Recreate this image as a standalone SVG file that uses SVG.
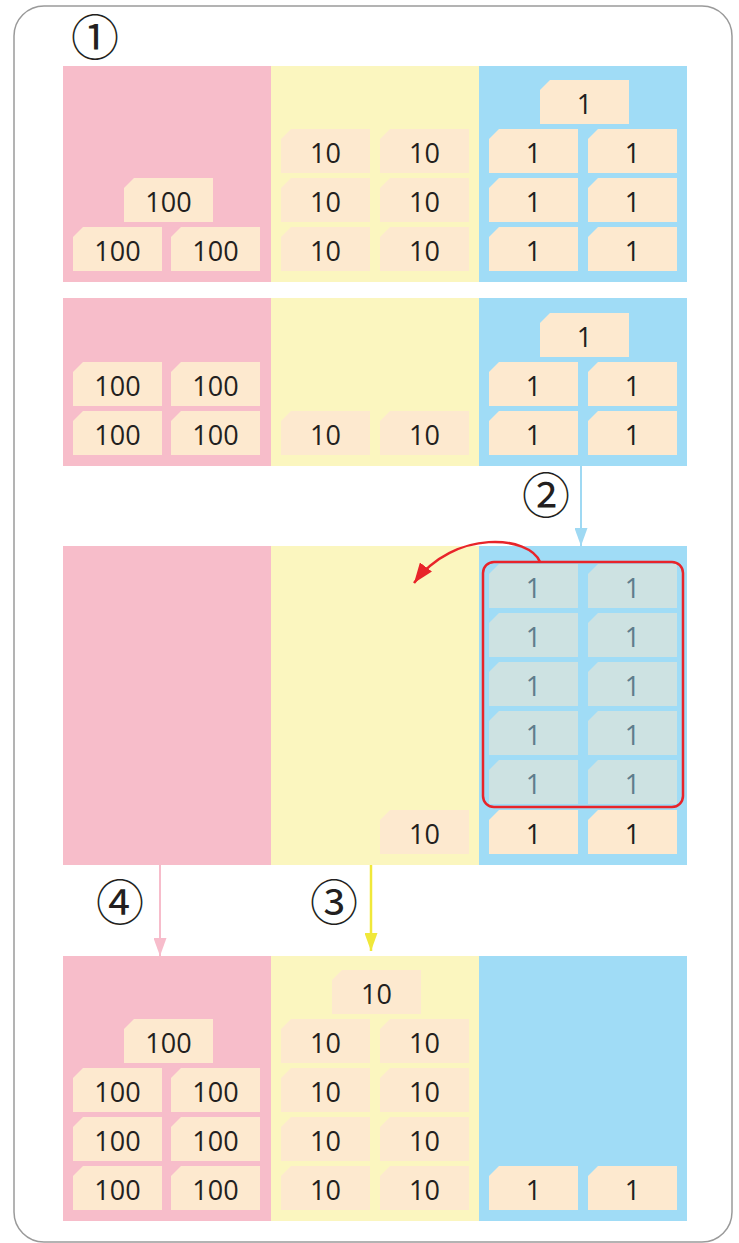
<svg xmlns="http://www.w3.org/2000/svg" xmlns:xlink="http://www.w3.org/1999/xlink" width="739" height="1243" viewBox="0 0 739 1243">
<style>
.t{font-family:"Open Sans","Noto Sans",sans-serif;font-size:27px;fill:#231f20;text-anchor:middle}
.tg{font-family:"Open Sans","Noto Sans",sans-serif;font-size:27px;fill:#5f7d8c;text-anchor:middle}
.c{fill:#fde9cf}
.cg{fill:#cde2e2}
.pink{fill:#f7bdca}
.yel{fill:#fbf6bf}
.blue{fill:#a0dcf6}
.num{font-family:"Noto Sans CJK JP","Noto Sans CJK SC",sans-serif;font-size:48px;fill:#231f20;text-anchor:middle}
</style>
<defs>
<path id="card" d="M10,0H89V44H0V10Z"/>
<marker id="ah-blue" viewBox="0 0 18 13" refX="18" refY="6.5" markerWidth="18" markerHeight="13" markerUnits="userSpaceOnUse" orient="auto"><path d="M0,0L18,6.5L0,13Z" fill="#9fd9f3"/></marker>
<marker id="ah-pink" viewBox="0 0 18 13" refX="18" refY="6.5" markerWidth="18" markerHeight="13" markerUnits="userSpaceOnUse" orient="auto"><path d="M0,0L18,6.5L0,13Z" fill="#f7bccb"/></marker>
<marker id="ah-yel" viewBox="0 0 18 13" refX="18" refY="6.5" markerWidth="18" markerHeight="13" markerUnits="userSpaceOnUse" orient="auto"><path d="M0,0L18,6.5L0,13Z" fill="#f0e83a"/></marker>
<marker id="ah-red" viewBox="0 0 20 15" refX="20" refY="7.5" markerWidth="20" markerHeight="15" markerUnits="userSpaceOnUse" orient="auto"><path d="M0,0L20,7.5L0,15Z" fill="#e8242a"/></marker>
</defs>
<rect x="14" y="6" width="718" height="1236" rx="30" fill="#fff" stroke="#9a9a9a" stroke-width="1.5"/>

<g id="panels">
<rect class="pink" x="63" y="66" width="208" height="216"/><rect class="yel" x="271" y="66" width="208" height="216"/><rect class="blue" x="479" y="66" width="208" height="216"/>
<rect class="pink" x="63" y="298" width="208" height="168"/><rect class="yel" x="271" y="298" width="208" height="168"/><rect class="blue" x="479" y="298" width="208" height="168"/>
<rect class="pink" x="63" y="546" width="208" height="319"/><rect class="yel" x="271" y="546" width="208" height="319"/><rect class="blue" x="479" y="546" width="208" height="319"/>
<rect class="pink" x="63" y="956" width="208" height="265"/><rect class="yel" x="271" y="956" width="208" height="265"/><rect class="blue" x="479" y="956" width="208" height="265"/>
</g>

<g id="labels">
<text class="num" x="95" y="55">①</text>
<text class="num" x="546" y="513">②</text>
<text class="num" x="334" y="920">③</text>
<text class="num" x="120" y="920">④</text>
</g>

<!-- Panel 1 -->
<g id="p1-h-top" transform="translate(124,178)"><use href="#card" class="c"/><text class="t" x="44.5" y="34">100</text></g>
<g id="p1-h-a" transform="translate(73,227)"><use href="#card" class="c"/><text class="t" x="44.5" y="34">100</text></g>
<g id="p1-h-b" transform="translate(171,227)"><use href="#card" class="c"/><text class="t" x="44.5" y="34">100</text></g>
<g id="p1-t-1a" transform="translate(281,129)"><use href="#card" class="c"/><text class="t" x="44.5" y="34">10</text></g>
<g id="p1-t-1b" transform="translate(380,129)"><use href="#card" class="c"/><text class="t" x="44.5" y="34">10</text></g>
<g id="p1-t-2a" transform="translate(281,178)"><use href="#card" class="c"/><text class="t" x="44.5" y="34">10</text></g>
<g id="p1-t-2b" transform="translate(380,178)"><use href="#card" class="c"/><text class="t" x="44.5" y="34">10</text></g>
<g id="p1-t-3a" transform="translate(281,227)"><use href="#card" class="c"/><text class="t" x="44.5" y="34">10</text></g>
<g id="p1-t-3b" transform="translate(380,227)"><use href="#card" class="c"/><text class="t" x="44.5" y="34">10</text></g>
<g id="p1-o-top" transform="translate(540,80)"><use href="#card" class="c"/><text class="t" x="44.5" y="34">1</text></g>
<g id="p1-o-1a" transform="translate(489,129)"><use href="#card" class="c"/><text class="t" x="44.5" y="34">1</text></g>
<g id="p1-o-1b" transform="translate(588,129)"><use href="#card" class="c"/><text class="t" x="44.5" y="34">1</text></g>
<g id="p1-o-2a" transform="translate(489,178)"><use href="#card" class="c"/><text class="t" x="44.5" y="34">1</text></g>
<g id="p1-o-2b" transform="translate(588,178)"><use href="#card" class="c"/><text class="t" x="44.5" y="34">1</text></g>
<g id="p1-o-3a" transform="translate(489,227)"><use href="#card" class="c"/><text class="t" x="44.5" y="34">1</text></g>
<g id="p1-o-3b" transform="translate(588,227)"><use href="#card" class="c"/><text class="t" x="44.5" y="34">1</text></g>

<!-- Panel 2 -->
<g id="p2-h-1a" transform="translate(73,362)"><use href="#card" class="c"/><text class="t" x="44.5" y="34">100</text></g>
<g id="p2-h-1b" transform="translate(171,362)"><use href="#card" class="c"/><text class="t" x="44.5" y="34">100</text></g>
<g id="p2-h-2a" transform="translate(73,411)"><use href="#card" class="c"/><text class="t" x="44.5" y="34">100</text></g>
<g id="p2-h-2b" transform="translate(171,411)"><use href="#card" class="c"/><text class="t" x="44.5" y="34">100</text></g>
<g id="p2-t-a" transform="translate(281,411)"><use href="#card" class="c"/><text class="t" x="44.5" y="34">10</text></g>
<g id="p2-t-b" transform="translate(380,411)"><use href="#card" class="c"/><text class="t" x="44.5" y="34">10</text></g>
<g id="p2-o-top" transform="translate(540,313)"><use href="#card" class="c"/><text class="t" x="44.5" y="34">1</text></g>
<g id="p2-o-1a" transform="translate(489,362)"><use href="#card" class="c"/><text class="t" x="44.5" y="34">1</text></g>
<g id="p2-o-1b" transform="translate(588,362)"><use href="#card" class="c"/><text class="t" x="44.5" y="34">1</text></g>
<g id="p2-o-2a" transform="translate(489,411)"><use href="#card" class="c"/><text class="t" x="44.5" y="34">1</text></g>
<g id="p2-o-2b" transform="translate(588,411)"><use href="#card" class="c"/><text class="t" x="44.5" y="34">1</text></g>

<!-- Panel 3 -->
<g id="p3-t" transform="translate(380,810)"><use href="#card" class="c"/><text class="t" x="44.5" y="34">10</text></g>
<g id="p3-g-1a" transform="translate(489,564)"><use href="#card" class="cg"/><text class="tg" x="44.5" y="34">1</text></g>
<g id="p3-g-1b" transform="translate(588,564)"><use href="#card" class="cg"/><text class="tg" x="44.5" y="34">1</text></g>
<g id="p3-g-2a" transform="translate(489,613)"><use href="#card" class="cg"/><text class="tg" x="44.5" y="34">1</text></g>
<g id="p3-g-2b" transform="translate(588,613)"><use href="#card" class="cg"/><text class="tg" x="44.5" y="34">1</text></g>
<g id="p3-g-3a" transform="translate(489,662)"><use href="#card" class="cg"/><text class="tg" x="44.5" y="34">1</text></g>
<g id="p3-g-3b" transform="translate(588,662)"><use href="#card" class="cg"/><text class="tg" x="44.5" y="34">1</text></g>
<g id="p3-g-4a" transform="translate(489,711)"><use href="#card" class="cg"/><text class="tg" x="44.5" y="34">1</text></g>
<g id="p3-g-4b" transform="translate(588,711)"><use href="#card" class="cg"/><text class="tg" x="44.5" y="34">1</text></g>
<g id="p3-g-5a" transform="translate(489,760)"><use href="#card" class="cg"/><text class="tg" x="44.5" y="34">1</text></g>
<g id="p3-g-5b" transform="translate(588,760)"><use href="#card" class="cg"/><text class="tg" x="44.5" y="34">1</text></g>
<g id="p3-o-a" transform="translate(489,810)"><use href="#card" class="c"/><text class="t" x="44.5" y="34">1</text></g>
<g id="p3-o-b" transform="translate(588,810)"><use href="#card" class="c"/><text class="t" x="44.5" y="34">1</text></g>
<g id="p3-group">
<rect x="483" y="562" width="200" height="245" rx="11" fill="none" stroke="#e8242a" stroke-width="2.5"/>
</g>

<!-- Panel 4 -->
<g id="p4-h-top" transform="translate(124,1019)"><use href="#card" class="c"/><text class="t" x="44.5" y="34">100</text></g>
<g id="p4-h-1a" transform="translate(73,1068)"><use href="#card" class="c"/><text class="t" x="44.5" y="34">100</text></g>
<g id="p4-h-1b" transform="translate(171,1068)"><use href="#card" class="c"/><text class="t" x="44.5" y="34">100</text></g>
<g id="p4-h-2a" transform="translate(73,1117)"><use href="#card" class="c"/><text class="t" x="44.5" y="34">100</text></g>
<g id="p4-h-2b" transform="translate(171,1117)"><use href="#card" class="c"/><text class="t" x="44.5" y="34">100</text></g>
<g id="p4-h-3a" transform="translate(73,1166)"><use href="#card" class="c"/><text class="t" x="44.5" y="34">100</text></g>
<g id="p4-h-3b" transform="translate(171,1166)"><use href="#card" class="c"/><text class="t" x="44.5" y="34">100</text></g>
<g id="p4-t-top" transform="translate(332,970)"><use href="#card" class="c"/><text class="t" x="44.5" y="34">10</text></g>
<g id="p4-t-1a" transform="translate(281,1019)"><use href="#card" class="c"/><text class="t" x="44.5" y="34">10</text></g>
<g id="p4-t-1b" transform="translate(380,1019)"><use href="#card" class="c"/><text class="t" x="44.5" y="34">10</text></g>
<g id="p4-t-2a" transform="translate(281,1068)"><use href="#card" class="c"/><text class="t" x="44.5" y="34">10</text></g>
<g id="p4-t-2b" transform="translate(380,1068)"><use href="#card" class="c"/><text class="t" x="44.5" y="34">10</text></g>
<g id="p4-t-3a" transform="translate(281,1117)"><use href="#card" class="c"/><text class="t" x="44.5" y="34">10</text></g>
<g id="p4-t-3b" transform="translate(380,1117)"><use href="#card" class="c"/><text class="t" x="44.5" y="34">10</text></g>
<g id="p4-t-4a" transform="translate(281,1166)"><use href="#card" class="c"/><text class="t" x="44.5" y="34">10</text></g>
<g id="p4-t-4b" transform="translate(380,1166)"><use href="#card" class="c"/><text class="t" x="44.5" y="34">10</text></g>
<g id="p4-o-a" transform="translate(489,1166)"><use href="#card" class="c"/><text class="t" x="44.5" y="34">1</text></g>
<g id="p4-o-b" transform="translate(588,1166)"><use href="#card" class="c"/><text class="t" x="44.5" y="34">1</text></g>

<g id="connectors" fill="none">
<path d="M581,466V546" stroke="#9fd9f3" stroke-width="2" marker-end="url(#ah-blue)"/>
<path d="M371,865V951" stroke="#f0e83a" stroke-width="2.5" marker-end="url(#ah-yel)"/>
<path d="M160,865V956" stroke="#f7bccb" stroke-width="2" marker-end="url(#ah-pink)"/>
<path d="M540,562C530,536 455,528 414,583" stroke="#e8242a" stroke-width="2.5" marker-end="url(#ah-red)"/>
</g>
</svg>
